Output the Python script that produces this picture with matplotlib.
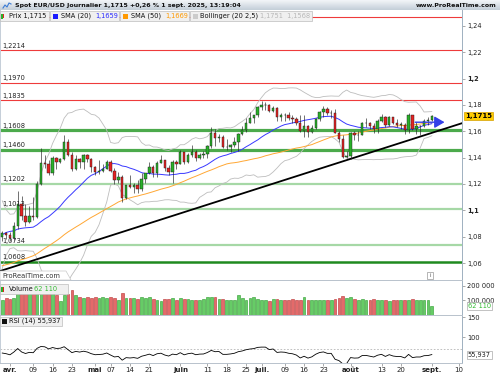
import numpy as np
import pandas as pd
import matplotlib
matplotlib.use("Agg")
import matplotlib.pyplot as plt
from matplotlib.patches import Rectangle, Polygon
from matplotlib.colors import LinearSegmentedColormap
import matplotlib.transforms as mtransforms

W, H = 500, 375

# ---------------- data ----------------
# closes before the visible window (Jan 2 - Mar 27 2025), needed for SMA/Bollinger/RSI warm-up
pre_closes = [1.0265, 1.0307, 1.0390, 1.0345, 1.0320, 1.0300, 1.0245, 1.0245, 1.0310, 1.0290, 1.0300, 1.0275,
              1.0415, 1.0430, 1.0405, 1.0415, 1.0495, 1.0490, 1.0430, 1.0420, 1.0390, 1.0360,
              1.0345, 1.0380, 1.0405, 1.0380, 1.0330, 1.0305, 1.0360, 1.0385, 1.0465, 1.0490,
              1.0485, 1.0445, 1.0420, 1.0500, 1.0460, 1.0465, 1.0515, 1.0485, 1.0400, 1.0375,
              1.0485, 1.0625, 1.0790, 1.0785, 1.0835, 1.0835, 1.0920, 1.0890, 1.0850, 1.0880,
              1.0920, 1.0945, 1.0900, 1.0855, 1.0815, 1.0800, 1.0790, 1.0755, 1.0800]

start_date = "2025-03-28"
end_date = "2025-09-01"

opens = [1.0795, 1.0830, 1.0815, 1.0790, 1.0880, 1.1045, 1.0955, 1.0910, 1.0960, 1.0950,
         1.1200, 1.1360, 1.1350, 1.1285, 1.1400, 1.1370, 1.1390, 1.1515, 1.1420, 1.1310,
         1.1390, 1.1365, 1.1420, 1.1390, 1.1330, 1.1290, 1.1300, 1.1315, 1.1370, 1.1300,
         1.1230, 1.1250, 1.1090, 1.1190, 1.1175, 1.1190, 1.1160, 1.1240, 1.1280, 1.1330,
         1.1280, 1.1360, 1.1385, 1.1325, 1.1290, 1.1370, 1.1350, 1.1440, 1.1370, 1.1420,
         1.1445, 1.1395, 1.1420, 1.1425, 1.1485, 1.1585, 1.1550, 1.1560, 1.1480, 1.1480,
         1.1495, 1.1520, 1.1580, 1.1610, 1.1665, 1.1700, 1.1720, 1.1785, 1.1800, 1.1800,
         1.1755, 1.1780, 1.1710, 1.1725, 1.1720, 1.1700, 1.1690, 1.1665, 1.1600, 1.1640,
         1.1595, 1.1625, 1.1695, 1.1750, 1.1770, 1.1740, 1.1740, 1.1590, 1.1545, 1.1405,
         1.1415, 1.1590, 1.1570, 1.1575, 1.1660, 1.1665, 1.1640, 1.1615, 1.1675, 1.1705,
         1.1645, 1.1705, 1.1665, 1.1650, 1.1650, 1.1610, 1.1720, 1.1620, 1.1640, 1.1640,
         1.1680, 1.1685]
highs = [1.0840, 1.0835, 1.0835, 1.0915, 1.1145, 1.1105, 1.1050, 1.1030, 1.1100, 1.1220,
         1.1475, 1.1420, 1.1380, 1.1410, 1.1405, 1.1395, 1.1575, 1.1545, 1.1440, 1.1420,
         1.1400, 1.1425, 1.1425, 1.1395, 1.1340, 1.1380, 1.1350, 1.1380, 1.1380, 1.1320,
         1.1290, 1.1265, 1.1195, 1.1265, 1.1210, 1.1230, 1.1285, 1.1285, 1.1365, 1.1345,
         1.1375, 1.1420, 1.1385, 1.1345, 1.1385, 1.1385, 1.1455, 1.1440, 1.1435, 1.1495,
         1.1455, 1.1435, 1.1450, 1.1495, 1.1630, 1.1615, 1.1580, 1.1570, 1.1540, 1.1500,
         1.1560, 1.1590, 1.1640, 1.1700, 1.1745, 1.1720, 1.1790, 1.1830, 1.1825, 1.1810,
         1.1790, 1.1785, 1.1740, 1.1740, 1.1745, 1.1720, 1.1705, 1.1720, 1.1720, 1.1645,
         1.1645, 1.1700, 1.1755, 1.1790, 1.1785, 1.1760, 1.1770, 1.1600, 1.1575, 1.1450,
         1.1595, 1.1600, 1.1600, 1.1670, 1.1700, 1.1670, 1.1660, 1.1690, 1.1730, 1.1715,
         1.1715, 1.1710, 1.1690, 1.1670, 1.1660, 1.1740, 1.1720, 1.1670, 1.1650, 1.1690,
         1.1705, 1.1725]
lows = [1.0765, 1.0780, 1.0765, 1.0775, 1.0860, 1.0930, 1.0880, 1.0900, 1.0930, 1.0940,
        1.1190, 1.1320, 1.1265, 1.1265, 1.1315, 1.1360, 1.1380, 1.1410, 1.1300, 1.1305,
        1.1325, 1.1315, 1.1365, 1.1290, 1.1265, 1.1275, 1.1290, 1.1310, 1.1290, 1.1200,
        1.1210, 1.1065, 1.1085, 1.1170, 1.1130, 1.1130, 1.1150, 1.1205, 1.1275, 1.1255,
        1.1255, 1.1360, 1.1295, 1.1270, 1.1210, 1.1310, 1.1350, 1.1355, 1.1360, 1.1405,
        1.1375, 1.1390, 1.1395, 1.1400, 1.1475, 1.1490, 1.1520, 1.1475, 1.1460, 1.1445,
        1.1480, 1.1450, 1.1575, 1.1595, 1.1660, 1.1660, 1.1710, 1.1760, 1.1760, 1.1745,
        1.1750, 1.1680, 1.1680, 1.1680, 1.1685, 1.1660, 1.1650, 1.1595, 1.1555, 1.1555,
        1.1590, 1.1615, 1.1675, 1.1710, 1.1720, 1.1700, 1.1585, 1.1520, 1.1400, 1.1400,
        1.1390, 1.1535, 1.1525, 1.1570, 1.1630, 1.1620, 1.1590, 1.1585, 1.1670, 1.1630,
        1.1640, 1.1655, 1.1635, 1.1615, 1.1580, 1.1585, 1.1610, 1.1580, 1.1575, 1.1635,
        1.1650, 1.1680]
closes = [1.0830, 1.0815, 1.0790, 1.0880, 1.1045, 1.0955, 1.0910, 1.0960, 1.0950, 1.1200,
          1.1360, 1.1350, 1.1285, 1.1400, 1.1370, 1.1390, 1.1515, 1.1420, 1.1310, 1.1390,
          1.1365, 1.1420, 1.1390, 1.1330, 1.1290, 1.1300, 1.1315, 1.1370, 1.1300, 1.1230,
          1.1250, 1.1090, 1.1190, 1.1175, 1.1190, 1.1160, 1.1240, 1.1280, 1.1330, 1.1280,
          1.1360, 1.1385, 1.1325, 1.1290, 1.1370, 1.1350, 1.1440, 1.1370, 1.1420, 1.1445,
          1.1395, 1.1420, 1.1425, 1.1485, 1.1585, 1.1550, 1.1560, 1.1480, 1.1480, 1.1495,
          1.1520, 1.1580, 1.1610, 1.1665, 1.1700, 1.1720, 1.1785, 1.1800, 1.1800, 1.1755,
          1.1780, 1.1710, 1.1725, 1.1720, 1.1700, 1.1690, 1.1665, 1.1600, 1.1640, 1.1595,
          1.1625, 1.1695, 1.1750, 1.1770, 1.1740, 1.1740, 1.1590, 1.1545, 1.1405, 1.1415,
          1.1590, 1.1570, 1.1575, 1.1660, 1.1665, 1.1640, 1.1615, 1.1675, 1.1705, 1.1645,
          1.1705, 1.1665, 1.1650, 1.1650, 1.1610, 1.1720, 1.1620, 1.1640, 1.1640, 1.1680,
          1.1685, 1.1715]
volumes = [100, 115, 110, 120, 160, 165, 175, 160, 165, 160,
           165, 160, 150, 155, 140, 95, 135, 145, 170, 135,
           125, 120, 125, 115, 125, 120, 125, 115, 125, 120,
           100, 150, 115, 120, 115, 110, 125, 115, 125, 110,
           100, 95, 112, 112, 115, 100, 115, 110, 110, 100,
           100, 105, 110, 123, 123, 123, 112, 112, 100, 100,
           100, 140, 118, 105, 118, 123, 112, 105, 105, 95,
           112, 112, 105, 100, 105, 108, 105, 100, 123, 100,
           100, 105, 100, 105, 105, 105, 112, 118, 130, 118,
           123, 112, 105, 112, 105, 100, 112, 105, 105, 100,
           95, 100, 100, 100, 100, 105, 112, 105, 105, 100,
           100, 62.11]  # thousands

level_prices = [1.2470, 1.2214, 1.1970, 1.1835, 1.1608, 1.1460, 1.1202, 1.1013, 1.0734, 1.0608]
level_labels = ["", "1,2214", "1,1970", "1,1835", "1,1608", "1,1460", "1,1202", "1,1013", "1,0734", "1,0608"]
level_kinds = ["res", "res", "res", "res", "sup", "sup", "light", "light", "light", "dark"]

trend_dates = ["2025-04-01", "2025-09-10"]
trend_prices = [1.0563, 1.1654]
arrow_dates = ["2025-08-25", "2025-09-05"]
arrow_price = 1.1669

price_ticks = [1.06, 1.08, 1.10, 1.12, 1.14, 1.16, 1.18, 1.20, 1.22, 1.24]
last_price = 1.1715
last_volume = 62110
rsi_last = 55.937

tick_dates = ["2025-04-01", "2025-04-09", "2025-04-16", "2025-04-23", "2025-05-01", "2025-05-07",
              "2025-05-14", "2025-05-21", "2025-06-02", "2025-06-11", "2025-06-18", "2025-06-25",
              "2025-07-01", "2025-07-09", "2025-07-16", "2025-07-23", "2025-08-01", "2025-08-13",
              "2025-08-20", "2025-09-01", "2025-09-10"]
tick_labels = ["avr.", "09", "16", "23", "mai", "07", "14", "21", "juin", "11", "18", "25",
               "juil.", "09", "16", "23", "août", "13", "20", "sept.", "10"]
month_labels = {"avr.", "mai", "juin", "juil.", "août", "sept."}

# ---------------- helpers ----------------
ORIGIN = "2025-04-01"


def kpos(d):
    return float(np.busday_count(ORIGIN, d))


dates = pd.bdate_range(start_date, end_date)
xs = np.array([kpos(d.strftime("%Y-%m-%d")) for d in dates])

s = pd.Series(pre_closes + closes, dtype=float)
n = len(closes)
sma20 = s.rolling(20).mean().values[-n:]
sma50 = s.rolling(50).mean().values[-n:]
sd20 = s.rolling(20).std(ddof=0).values[-n:]
bb_up = sma20 + 2.5 * sd20
bb_lo = sma20 - 2.5 * sd20
delta = s.diff()
gain = delta.clip(lower=0).ewm(alpha=1 / 14, adjust=False).mean()
loss = (-delta.clip(upper=0)).ewm(alpha=1 / 14, adjust=False).mean()
rsi = (100 - 100 / (1 + gain / loss)).values[-n:]

XL = (-2.58, 116.8)
FS = 4.8


def R(x0, y0, x1, y1):
    return [x0 / W, 1 - y1 / H, (x1 - x0) / W, (y1 - y0) / H]


def fx(x):
    return x / W


def fy(y):
    return 1 - y / H


plt.rcParams["font.family"] = ["DejaVu Sans"]
fig = plt.figure(figsize=(5, 3.75), dpi=100, facecolor="white")

# ---------------- title bar ----------------
axT = fig.add_axes(R(0, 0, 500, 10))
cmap = LinearSegmentedColormap.from_list("g", ["#f2f5f8", "#c4cfd9"])
axT.imshow(np.linspace(0, 1, 20).reshape(-1, 1), aspect="auto", cmap=cmap, extent=[0, 1, 0, 1])
axT.axis("off")
fig.text(fx(15), fy(5.2), "Spot EUR/USD Journalier 1,1715 +0,26 % 1 sept. 2025, 13:19:04",
         fontsize=4.5, fontweight="bold", va="center", ha="left", color="#111111")
fig.text(fx(497), fy(5.2), "www.ProRealTime.com", fontsize=4.5, fontweight="bold",
         va="center", ha="right", color="#111111")
fig.add_artist(plt.Line2D([fx(3), fx(5), fx(7), fx(9), fx(11)], [fy(8), fy(5), fy(7), fy(3), fy(4)],
                          color="#3a7bd5", lw=0.8, transform=fig.transFigure))

# ---------------- price panel ----------------
ax = fig.add_axes(R(0, 10, 462, 280))
ax.set_xlim(*XL)
ax.set_ylim(1.0471, 1.2521)
ax.set_facecolor("white")

for p, lab, kind in zip(level_prices, level_labels, level_kinds):
    if kind == "res":
        col, lw = "#ee3b3b", 0.8
    elif kind == "sup":
        col, lw = "#4caa4c", 2.3
    elif kind == "light":
        col, lw = "#a6d8a6", 1.6
    else:
        col, lw = "#1f8a1f", 1.8
    ax.axhline(p, color=col, lw=lw, zorder=1)
    if lab:
        ax.annotate(lab, xy=(XL[0], p), xytext=(2, 1.2), textcoords="offset points",
                    fontsize=FS, color="#222222", va="bottom", ha="left", zorder=6)

ax.plot(xs, bb_up, color="#bdbdbd", lw=0.6, zorder=2)
ax.plot(xs, bb_lo, color="#bdbdbd", lw=0.6, zorder=2)
ax.plot(xs, sma50, color="#ffa733", lw=0.7, zorder=3)
ax.plot(xs, sma20, color="#3838ff", lw=0.7, zorder=3)

ax.axline((kpos(trend_dates[0]), trend_prices[0]), (kpos(trend_dates[1]), trend_prices[1]),
          color="black", lw=1.3, zorder=4)

bw = 0.62
for x, o, h, l, c in zip(xs, opens, highs, lows, closes):
    up = c >= o
    ax.vlines(x, l, h, color="#222222", lw=0.45, zorder=5)
    bot = min(o, c)
    ht = max(abs(c - o), 0.00025)
    ax.add_patch(Rectangle((x - bw / 2, bot), bw, ht,
                           facecolor="#29b029" if up else "#e52222",
                           edgecolor="#1a1a1a", lw=0.3, zorder=5))

ax.annotate("", xy=(kpos(arrow_dates[1]), arrow_price), xytext=(kpos(arrow_dates[0]), arrow_price),
            arrowprops=dict(arrowstyle="-|>,head_length=0.6,head_width=0.35", color="#3340e8", lw=1.0),
            zorder=7)

ax.yaxis.tick_right()
ax.set_yticks(price_ticks)
ax.set_yticklabels([("%g" % t).replace(".", ",") for t in price_ticks])
for t, lab in zip(price_ticks, ax.get_yticklabels()):
    if abs(t - 1.2) < 1e-9 or abs(t - 1.1) < 1e-9:
        lab.set_fontweight("bold")
ax.tick_params(axis="y", labelsize=FS, length=2, width=0.5, color="#888888", pad=1.5, labelcolor="#222222")
ax.set_xticks([])
for sp in ["top"]:
    ax.spines[sp].set_visible(False)
ax.spines["left"].set_color("#c5ced8")
ax.spines["right"].set_color("#9fb0c0")
ax.spines["bottom"].set_color("#b8c2cc")
for sp in ax.spines.values():
    sp.set_linewidth(0.7)

trans = mtransforms.blended_transform_factory(ax.transAxes, ax.transData)
ax.text(1.006, last_price, "1,1715", transform=trans, fontsize=5, fontweight="bold", va="center",
        ha="left", color="black",
        bbox=dict(boxstyle="square,pad=0.15", facecolor="#ffcc00", edgecolor="#d4a000", lw=0.5),
        clip_on=False, zorder=10)

# watermark box and info icon
fig.add_artist(Polygon([[fx(0), fy(271)], [fx(66), fy(271)], [fx(71), fy(280)], [fx(0), fy(280)]],
                       closed=True, facecolor="white", edgecolor="#c8c8c8", lw=0.5, transform=fig.transFigure))
fig.text(fx(2), fy(276), "ProRealTime.com", fontsize=FS, color="#333333", va="center", ha="left")
fig.add_artist(Rectangle((fx(427), fy(279)), 6 / W, 7 / H, facecolor="white", edgecolor="#999999",
                         lw=0.5, transform=fig.transFigure))
fig.text(fx(430), fy(275.5), "i", fontsize=4, color="#555555", va="center", ha="center")

# legend row
def box(x0, x1, y0=11, y1=21):
    fig.add_artist(Rectangle((fx(x0), fy(y1)), (x1 - x0) / W, (y1 - y0) / H, facecolor="#f0f0f0",
                             edgecolor="#bdbdbd", lw=0.5, transform=fig.transFigure, zorder=20))


def sq(x0, col, y=16, w=5):
    fig.add_artist(Rectangle((fx(x0), fy(y + w / 2)), w / W, w / H, facecolor=col, edgecolor="none",
                             transform=fig.transFigure, zorder=21))


def txt(x, t, col="#111111", y=16, **kw):
    fig.text(fx(x), fy(y), t, fontsize=FS, color=col, va="center", ha="left", zorder=22, **kw)


box(0, 49)
sq(1, "#e52222", w=3)
fig.add_artist(Rectangle((fx(1), fy(18.5)), 1.6 / W, 5 / H, facecolor="#29b029", edgecolor="none",
                         transform=fig.transFigure, zorder=22))
txt(9, "Prix 1,1715")
box(50, 119)
sq(53, "#1a1aff")
txt(61, "SMA (20)")
txt(95, "1,1659", "#2a2aff")
box(120, 189)
sq(123, "#ff9900")
txt(131, "SMA (50)")
txt(165, "1,1669", "#ff9900")
box(190, 312)
sq(193, "#cccccc")
txt(200, "Bollinger (20 2,5)")
txt(260, "1,1751  1,1568", "#b8b8b8")

# ---------------- volume panel ----------------
axv = fig.add_axes(R(0, 281, 462, 315))
axv.set_xlim(*XL)
axv.set_ylim(0, 234000)
vol_units = [v * 1000 for v in volumes]
vcols = ["#66cc66" if c >= o else "#e46a6a" for o, c in zip(opens, closes)]
ecols = ["#2a9a2a" if c >= o else "#b83030" for o, c in zip(opens, closes)]
axv.bar(xs, vol_units, width=0.72, color=vcols, edgecolor=ecols, linewidth=0.4)
axv.yaxis.tick_right()
axv.set_yticks([100000, 200000])
axv.set_yticklabels(["100 000", "200 000"])
axv.tick_params(axis="y", labelsize=FS, length=2, width=0.5, color="#888888", pad=1.5, labelcolor="#222222")
axv.set_xticks([])
axv.spines["top"].set_visible(False)
axv.spines["left"].set_color("#c5ced8")
axv.spines["right"].set_color("#9fb0c0")
axv.spines["bottom"].set_color("#b8c2cc")
for sp in axv.spines.values():
    sp.set_linewidth(0.7)
transv = mtransforms.blended_transform_factory(axv.transAxes, axv.transData)
axv.text(1.012, last_volume, "62 110", transform=transv, fontsize=FS, color="#33bb33", va="center",
         ha="left", bbox=dict(boxstyle="square,pad=0.15", facecolor="white", edgecolor="#aaaaaa", lw=0.5),
         clip_on=False, zorder=10)
box(0, 68, 284, 294)
fig.add_artist(Rectangle((fx(1), fy(291.5)), 1.6 / W, 5 / H, facecolor="#29b029", edgecolor="none",
                         transform=fig.transFigure, zorder=22))
fig.add_artist(Rectangle((fx(2.6), fy(291.5)), 1.6 / W, 5 / H, facecolor="#e52222", edgecolor="none",
                         transform=fig.transFigure, zorder=22))
txt(9, "Volume", y=289)
txt(34, "62 110", "#33bb33", y=289)

# ---------------- RSI panel ----------------
axr = fig.add_axes(R(0, 316, 462, 363))
axr.set_xlim(*XL)
axr.set_ylim(35, 152.5)
axr.axhline(70, color="#b5b5b5", lw=0.6, ls=(0, (2, 2)))
axr.plot(xs, rsi, color="black", lw=0.6)
axr.yaxis.tick_right()
axr.set_yticks([100, 150])
axr.set_yticklabels(["100", "150"])
axr.tick_params(axis="y", labelsize=FS, length=2, width=0.5, color="#888888", pad=1.5, labelcolor="#222222")
axr.set_xticks([kpos(d) for d in tick_dates])
axr.set_xticklabels(tick_labels)
for lab in axr.get_xticklabels():
    if lab.get_text() in month_labels:
        lab.set_fontweight("bold")
axr.tick_params(axis="x", labelsize=5, length=2, width=0.5, color="#888888", pad=1.2, labelcolor="#222222")
axr.spines["top"].set_visible(False)
axr.spines["left"].set_color("#c5ced8")
axr.spines["right"].set_color("#9fb0c0")
axr.spines["bottom"].set_color("#b8c2cc")
for sp in axr.spines.values():
    sp.set_linewidth(0.7)
transr = mtransforms.blended_transform_factory(axr.transAxes, axr.transData)
axr.text(1.012, rsi_last, "55,937", transform=transr, fontsize=FS, color="#222222", va="center",
         ha="left", bbox=dict(boxstyle="square,pad=0.15", facecolor="white", edgecolor="#aaaaaa", lw=0.5),
         clip_on=False, zorder=10)
box(0, 62, 316.5, 326)
sq(1.5, "#111111", y=321.2)
txt(9, "RSI (14) 55,937", y=321.2)

fig.savefig("out.png", dpi=100, facecolor="white")
